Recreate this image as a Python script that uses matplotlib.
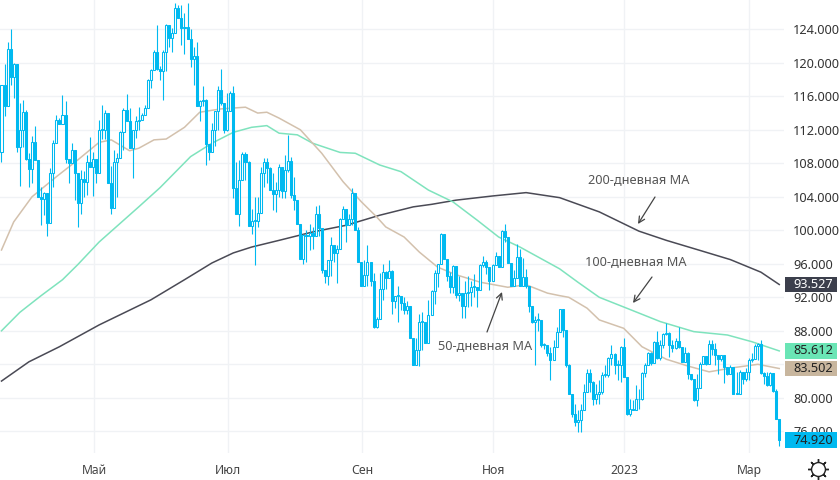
"""Daily candles with 50/100/200-day moving averages, TradingView look."""
import matplotlib
matplotlib.use("Agg")  # headless
import matplotlib.pyplot as plt
from matplotlib.lines import Line2D
from matplotlib.patches import Rectangle

first_open = 109.4

closes = [
    117.3, 114.9, 121.6, 118.3, 119.9, 109.9, 112.0, 114.1, 108.5, 107.3,
    110.6, 108.4, 104.0, 103.7, 104.4, 100.9, 106.8, 110.4, 113.2, 112.7,
    113.8, 108.5, 108.0, 109.6, 106.9, 103.3, 106.1, 105.8, 108.2, 107.5,
    108.5, 106.8, 112.0, 112.0, 114.0, 105.7, 102.7, 108.1, 108.6, 111.7,
    114.4, 113.1, 109.8, 112.0, 113.0, 113.2, 113.8, 114.6, 117.9, 119.2,
    121.3, 119.3, 119.0, 121.3, 124.5, 123.0, 123.5, 126.5, 125.4, 124.2,
    124.3, 122.9, 120.5, 120.8, 114.8, 115.4, 115.6, 110.3, 109.4, 112.0,
    114.3, 116.8, 115.2, 112.0, 114.2, 116.4, 105.0, 102.0, 106.0, 109.1,
    108.1, 100.5, 101.1, 101.1, 102.1, 106.8, 108.1, 107.4, 104.8, 104.3,
    104.8, 107.5, 104.7, 107.2, 108.3, 104.2, 103.6, 100.7, 96.6, 99.4,
    99.3, 99.7, 99.3, 101.9, 100.3, 95.3, 94.6, 96.4, 98.2, 97.3,
    97.8, 101.3, 102.6, 100.6, 101.3, 104.4, 100.0, 96.2, 93.3, 94.7,
    96.2, 94.0, 88.5, 89.4, 93.0, 95.0, 94.3, 95.2, 91.5, 92.2,
    92.2, 91.3, 90.5, 91.0, 87.2, 83.9, 85.7, 89.1, 89.1, 86.6,
    89.9, 92.8, 94.9, 96.0, 99.6, 96.6, 94.5, 93.2, 95.7, 92.3,
    92.5, 91.0, 92.5, 92.6, 93.2, 93.2, 92.9, 95.8, 96.2, 95.6,
    94.0, 95.8, 96.9, 95.6, 99.9, 99.2, 96.1, 93.3, 94.3, 96.8,
    93.3, 94.4, 93.3, 91.0, 89.1, 89.3, 89.3, 86.3, 86.3, 85.4,
    84.5, 86.1, 87.9, 90.6, 88.1, 83.9, 80.5, 78.1, 77.1, 77.3,
    78.6, 80.7, 83.0, 81.9, 79.8, 80.5, 80.7, 82.7, 82.7, 84.7,
    85.2, 83.9, 83.9, 86.1, 82.5, 78.1, 78.7, 78.6, 79.8, 79.8,
    83.0, 83.9, 85.4, 84.1, 86.7, 84.7, 86.3, 87.6, 87.7, 86.3,
    86.0, 86.8, 86.1, 84.3, 85.4, 82.8, 82.2, 79.7, 81.2, 84.0,
    85.0, 84.0, 86.4, 85.8, 85.1, 84.6, 85.1, 83.7, 82.8, 83.7,
    80.5, 80.5, 83.1, 82.3, 83.1, 84.5, 84.6, 86.2, 86.4, 83.0,
    82.6, 81.5, 83.0, 80.8, 77.5, 74.92,
]
highs = [
    117.4, 119.9, 122.5, 124.0, 120.0, 119.9, 115.2, 115.6, 114.4, 109.2,
    111.3, 112.5, 108.4, 105.2, 104.6, 104.4, 107.4, 110.8, 113.8, 113.4,
    116.2, 115.4, 108.5, 110.4, 109.6, 106.9, 107.2, 107.1, 109.0, 111.2,
    109.4, 108.5, 113.2, 115.0, 114.4, 114.0, 107.7, 109.6, 109.2, 111.8,
    114.6, 116.3, 114.6, 112.0, 113.6, 114.7, 114.0, 115.0, 118.1, 119.3,
    121.5, 124.5, 119.6, 121.5, 124.6, 124.5, 124.1, 127.1, 126.9, 126.9,
    125.9, 127.1, 124.0, 121.9, 122.5, 115.6, 117.2, 115.7, 110.3, 112.8,
    114.3, 117.2, 119.3, 115.2, 116.4, 116.6, 117.2, 108.2, 108.4, 109.4,
    109.4, 108.3, 102.6, 104.0, 104.0, 107.6, 108.6, 108.6, 107.6, 106.8,
    105.8, 107.9, 107.6, 109.0, 111.4, 108.7, 106.4, 103.6, 100.7, 99.6,
    100.0, 100.8, 100.4, 102.9, 103.0, 100.3, 95.3, 96.4, 99.2, 98.2,
    98.2, 101.5, 102.9, 102.6, 102.0, 105.1, 104.4, 100.4, 96.2, 96.4,
    98.2, 96.2, 94.9, 89.6, 94.9, 96.0, 95.2, 96.4, 95.3, 92.2,
    93.3, 92.2, 92.0, 91.6, 91.0, 87.2, 87.2, 90.0, 90.3, 89.1,
    91.7, 92.9, 95.3, 96.0, 99.7, 99.6, 96.6, 95.0, 95.9, 95.7,
    94.5, 92.5, 93.9, 94.5, 94.0, 94.8, 93.2, 96.0, 96.9, 96.4,
    95.6, 96.0, 97.4, 96.9, 100.0, 100.7, 99.2, 96.1, 95.3, 98.4,
    97.8, 96.7, 95.4, 93.3, 91.0, 89.8, 90.1, 89.3, 86.5, 86.3,
    86.1, 86.9, 88.4, 90.6, 90.6, 88.1, 84.0, 80.5, 79.3, 78.5,
    79.3, 81.7, 83.4, 83.4, 82.0, 81.7, 82.1, 83.1, 83.9, 84.9,
    86.3, 85.3, 84.5, 86.2, 87.1, 82.5, 79.9, 79.7, 81.5, 81.1,
    83.1, 84.1, 85.5, 85.5, 86.8, 88.0, 86.9, 87.7, 88.9, 87.8,
    86.9, 87.1, 88.5, 86.1, 86.1, 85.5, 82.9, 82.2, 82.9, 84.3,
    85.0, 85.0, 86.9, 86.9, 86.5, 85.1, 85.1, 84.9, 83.7, 83.9,
    83.7, 83.1, 83.3, 83.1, 83.5, 84.7, 85.3, 86.4, 86.5, 86.9,
    83.1, 83.1, 83.1, 83.0, 81.1, 77.5,
]
lows = [
    108.1, 113.6, 114.9, 117.3, 115.8, 109.4, 105.3, 110.0, 108.4, 105.2,
    105.7, 108.4, 104.0, 100.6, 101.8, 99.3, 100.9, 105.2, 110.4, 112.7,
    112.7, 108.0, 105.7, 108.0, 103.6, 100.4, 102.0, 104.0, 104.2, 107.5,
    104.1, 105.6, 106.8, 110.9, 110.9, 105.7, 102.0, 102.7, 104.0, 108.6,
    109.6, 113.1, 109.8, 106.2, 111.0, 112.0, 113.2, 113.8, 114.6, 117.0,
    119.2, 119.2, 118.0, 115.6, 119.0, 121.9, 121.3, 123.5, 125.3, 122.1,
    121.0, 122.9, 119.5, 117.3, 114.8, 113.0, 114.8, 107.8, 108.4, 109.4,
    110.1, 112.0, 115.0, 111.6, 111.8, 114.2, 103.8, 102.0, 100.5, 106.0,
    106.0, 100.5, 99.6, 95.8, 100.4, 102.1, 105.2, 105.6, 104.8, 102.4,
    102.2, 104.0, 103.8, 103.8, 107.0, 103.8, 102.4, 100.7, 96.6, 96.0,
    96.2, 97.6, 97.8, 99.3, 99.3, 94.9, 93.7, 93.5, 94.6, 96.2,
    93.7, 97.8, 101.3, 98.6, 100.6, 100.6, 100.0, 96.2, 93.3, 93.3,
    93.4, 93.4, 88.3, 88.3, 89.4, 91.7, 93.0, 94.3, 90.0, 90.7,
    89.1, 90.5, 90.0, 90.0, 87.2, 83.9, 83.9, 83.8, 85.7, 86.5,
    86.6, 89.9, 91.2, 93.2, 96.0, 96.6, 94.0, 92.5, 92.5, 91.9,
    91.5, 89.5, 89.5, 90.9, 91.0, 92.0, 90.9, 92.9, 95.6, 94.8,
    92.9, 94.0, 95.8, 95.6, 95.6, 98.6, 96.1, 93.3, 93.3, 94.3,
    93.3, 93.3, 93.1, 90.3, 88.9, 83.9, 88.0, 86.1, 85.8, 85.0,
    82.1, 84.5, 86.1, 87.9, 87.3, 83.7, 80.5, 77.7, 76.6, 75.9,
    75.9, 78.5, 80.7, 80.7, 79.1, 79.3, 79.3, 80.5, 82.5, 82.5,
    83.9, 82.9, 82.1, 81.9, 82.5, 77.9, 77.8, 78.5, 78.6, 78.7,
    79.7, 82.5, 83.9, 83.9, 84.1, 84.6, 84.5, 85.9, 87.5, 84.9,
    85.5, 85.8, 85.9, 84.3, 84.3, 82.3, 82.1, 79.6, 79.0, 81.2,
    84.0, 83.9, 84.0, 85.1, 83.9, 82.9, 84.4, 81.8, 82.7, 82.8,
    80.4, 80.4, 80.5, 81.7, 82.0, 82.1, 84.3, 84.6, 84.5, 82.9,
    81.7, 81.4, 81.4, 80.7, 77.5, 74.2,
]

ma50_x = [0, 4, 10, 18, 25, 32, 36, 42, 45, 50, 54, 60, 65, 72, 80, 84, 87, 91,
          98, 105, 112, 118, 123, 126, 132, 137, 143, 149, 157, 166, 172, 179,
          183, 186, 192, 196, 204, 210, 218, 225, 232, 240, 248, 255]
ma50_y = [97.65, 101.0, 104.0, 106.4, 108.4, 110.5, 110.8, 109.5, 109.8, 110.8,
          110.9, 112.3, 114.1, 114.5, 114.7, 114.0, 114.1, 113.4, 112.0, 109.2,
          105.8, 103.4, 101.6, 100.4, 99.2, 97.4, 95.6, 94.7, 93.8, 93.2, 93.5,
          92.5, 92.2, 92.0, 90.7, 89.3, 88.3, 86.1, 84.6, 83.8, 83.1, 83.6,
          84.0, 83.5]

ma100_x = [0, 6, 13, 20, 25, 32, 45, 52, 62, 69, 76, 82, 87, 91, 97, 102, 111,
           116, 124, 131, 140, 148, 156, 163, 170, 183, 189, 196, 205, 216,
           227, 238, 246, 255]
ma100_y = [88.0, 90.2, 92.2, 94.1, 95.9, 98.6, 102.8, 105.1, 108.8, 110.4, 111.7,
           112.3, 112.5, 111.6, 111.4, 110.4, 109.3, 109.2, 107.8, 107.0, 104.8,
           103.4, 101.2, 99.2, 98.0, 95.4, 93.8, 92.0, 90.7, 89.1, 87.9, 87.5,
           86.7, 85.6]

ma200_x = [0, 9, 19, 32, 49, 60, 69, 76, 82, 91, 102, 113, 124, 135, 141, 149,
           161, 172, 183, 196, 209, 218, 229, 239, 249, 255]
ma200_y = [82.0, 84.3, 86.1, 88.7, 91.7, 94.1, 96.1, 97.3, 98.0, 98.8, 99.8,
           100.6, 101.8, 102.8, 103.1, 103.6, 104.1, 104.5, 103.9, 102.2, 99.9,
           98.8, 97.6, 96.5, 95.0, 93.53]

y_ticks = [76, 80, 84, 88, 92, 96, 100, 104, 108, 112, 116, 120, 124]
x_ticks = [30.4, 74.3, 118.3, 161.3, 204.2, 245.2]
x_labels = ["Май", "Июл", "Сен", "Ноя", "2023", "Мар"]

last_labels = [(93.527, "#3c3f4c", "white"), (85.612, "#6ae5b5", "#222222"),
               (83.502, "#c8b69e", "#222222"), (74.92, "#00b9f0", "#222222")]

BLUE = "#00b9f0"
FONT = "Noto Sans"
W, H = 840, 480


def fig_xy(x, y):
    """Pixel position in the picture -> figure fraction."""
    return x / W, 1 - y / H


fig = plt.figure(figsize=(8.4, 4.8), dpi=100)
ax = fig.add_axes([0, 1 - 453 / H, 784 / W, 453 / H])
ax.set_xlim(-0.49, 256.56)
ax.set_ylim(73.41, 127.5)
ax.grid(color="#f0f2f5", lw=1)
ax.set_axisbelow(True)
for s in ax.spines.values():
    s.set_visible(False)

ax.plot(ma200_x, ma200_y, color="#4a4a55", lw=1.1, zorder=2)
ax.plot(ma100_x, ma100_y, color="#7fe3bd", lw=1.1, zorder=2)
ax.plot(ma50_x, ma50_y, color="#d3c1ad", lw=1.1, zorder=2)

# open of each candle is the previous close
opens = [first_open] + closes[:-1]
for i, (o, c, hi, lo) in enumerate(zip(opens, closes, highs, lows)):
    ax.vlines(i, lo, hi, color=BLUE, lw=0.8, zorder=3)
    up = c >= o
    ax.add_patch(Rectangle((i - 0.33, min(o, c)), 0.66, max(abs(c - o), 0.1),
                           facecolor="white" if up else BLUE, edgecolor=BLUE,
                           lw=0.75, snap=True, zorder=4))

ax.yaxis.tick_right()
ax.set_yticks(y_ticks)
# the 84.000 label sits behind the two badges, nothing of it shows
ax.set_yticklabels(["" if v == 84 else f"{v:.3f}" for v in y_ticks], fontsize=9.2,
                   color="#333333", family=FONT)
ax.set_xticks(x_ticks)
ax.set_xticklabels(x_labels, fontsize=8.8, color="#444444", family=FONT)
ax.get_xticklabels()[4].set_fontweight("bold")
ax.tick_params(length=0, pad=8)
ax.tick_params(axis="y", pad=6.5)

# last value badges on the price scale
trans = ax.get_yaxis_transform()
for val, bg, fg in last_labels:
    ax.add_patch(Rectangle((785 / 784, val - 0.95), 52 / 784, 1.9, transform=trans,
                           facecolor=bg, edgecolor="none", clip_on=False, zorder=6))
    ax.text(813 / 784, val, f"{val:.3f}", transform=trans, ha="center", va="center",
            fontsize=9.2, color=fg, family=FONT, zorder=7,
            fontweight="bold" if fg == "white" else "normal")

notes = [("200-дневная MA", (639, 180), (655, 197), (638, 224)),
         ("100-дневная MA", (636, 262), (652, 277), (633, 303)),
         ("50-дневная MA", (485, 346), (487, 332), (502, 292))]
for label, pos, start, end in notes:
    fig.text(*fig_xy(*pos), label, ha="center", va="center", fontsize=9.2,
             color="#555555", family=FONT, zorder=8)
    ax.annotate("", xy=fig_xy(*end), xytext=fig_xy(*start), xycoords="figure fraction",
                textcoords="figure fraction",
                arrowprops=dict(arrowstyle="->", color="#444444", lw=0.9, shrinkA=0,
                                shrinkB=0, mutation_scale=11), zorder=8)

# settings icon under the price scale
gear_x, gear_y = fig_xy(817.7, 469)
for marker, size, face in [((8, 2, 0), 15, "none"), ("o", 10, "white")]:
    fig.add_artist(Line2D([gear_x], [gear_y], transform=fig.transFigure, marker=marker,
                          markersize=size, markerfacecolor=face, markeredgecolor="#222222",
                          markeredgewidth=1.0, linestyle="none"))

fig.savefig("out.png", dpi=100)
